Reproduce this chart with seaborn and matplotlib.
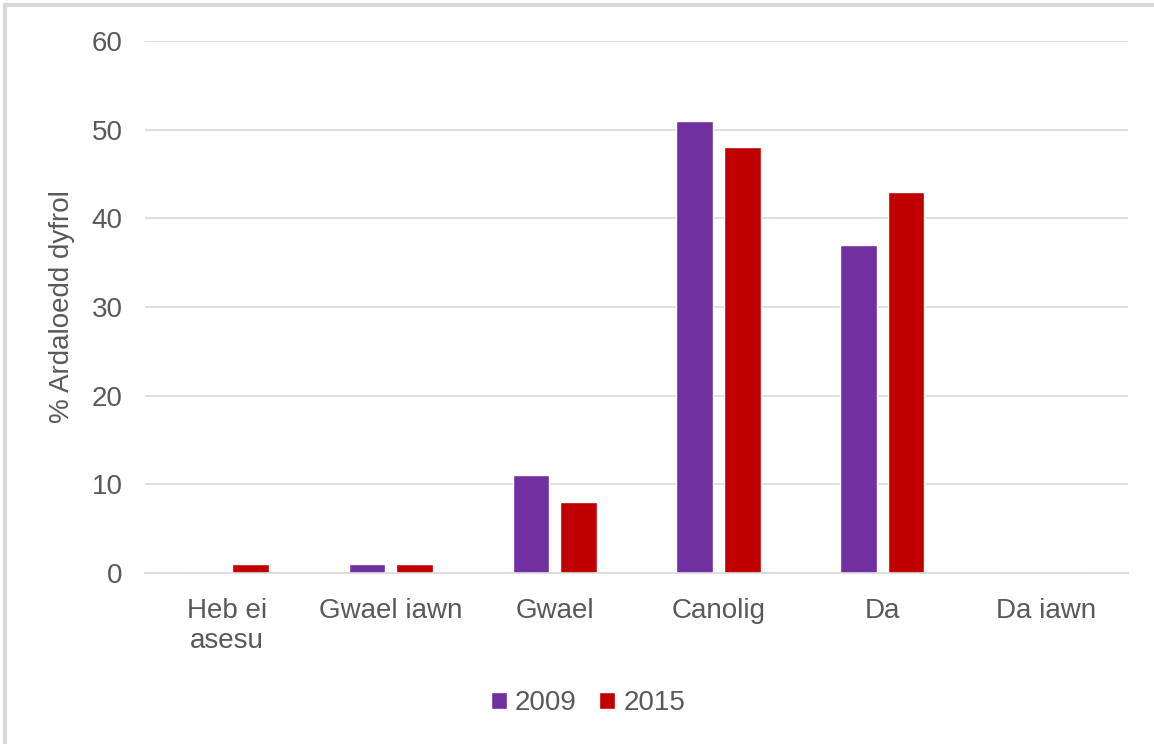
import pandas as pd
import seaborn as sns
import matplotlib
import matplotlib.pyplot as plt
from matplotlib.lines import Line2D
matplotlib.use('Agg')

# Chart data
categories = ["Heb ei\nasesu", "Gwael iawn", "Gwael", "Canolig", "Da", "Da iawn"]
years = ["2009", "2015"]
values_2009 = [0, 1, 11, 51, 37, 0]
values_2015 = [1, 1, 8, 48, 43, 0]
y_ticks = [0, 10, 20, 30, 40, 50, 60]
y_label = "% Ardaloedd dyfrol"


def main():
    # Long format table for seaborn
    df = pd.DataFrame({
        "category": categories * 2,
        "year": [years[0]] * len(categories) + [years[1]] * len(categories),
        "value": values_2009 + values_2015,
    })

    sns.set_style("white")
    plt.rcParams['font.family'] = ['Liberation Sans', 'DejaVu Sans']
    text_color = "#595959"

    fig = plt.figure(figsize=(11.54, 7.44), dpi=100)
    ax = fig.add_axes([0.1257, 0.2298, 0.8518, 0.7151])

    sns.barplot(data=df, x="category", y="value", hue="year",
                order=categories, hue_order=years,
                palette=["#7030A0", "#C00000"], saturation=1,
                width=0.58, gap=0.23, ax=ax, legend=True)

    ax.set_ylim(0, 60)
    ax.set_yticks(y_ticks)
    ax.yaxis.grid(True, color="#D9D9D9", linewidth=1.2)
    ax.set_axisbelow(True)
    for side in ["top", "right", "left"]:
        ax.spines[side].set_visible(False)
    ax.spines["bottom"].set_color("#D9D9D9")
    ax.spines["bottom"].set_linewidth(1.2)
    ax.tick_params(axis="both", length=0, labelsize=20, colors=text_color)
    ax.tick_params(axis="x", pad=18)
    ax.tick_params(axis="y", pad=16)
    ax.set_xlabel("")
    ax.set_ylabel(y_label, fontsize=20, color=text_color, labelpad=12)

    # Legend below the plot
    handles, labels = ax.get_legend_handles_labels()
    ax.legend(handles, labels, loc="center", bbox_to_anchor=(588 / 1154, 41 / 744),
              bbox_transform=fig.transFigure,
              ncol=2, frameon=False, fontsize=20, labelcolor=text_color,
              handlelength=0.58, handleheight=0.58, handletextpad=0.3,
              columnspacing=0.8)

    # Light frame on the top and left edges (chart is cropped)
    fig.add_artist(Line2D([5 / 1154, 5 / 1154], [0, 1 - 5 / 744],
                          transform=fig.transFigure, color="#D9D9D9", linewidth=3))
    fig.add_artist(Line2D([5 / 1154, 1], [1 - 5 / 744, 1 - 5 / 744],
                          transform=fig.transFigure, color="#D9D9D9", linewidth=3))

    plt.savefig("out.png", dpi=100)


if __name__ == "__main__":
    main()
